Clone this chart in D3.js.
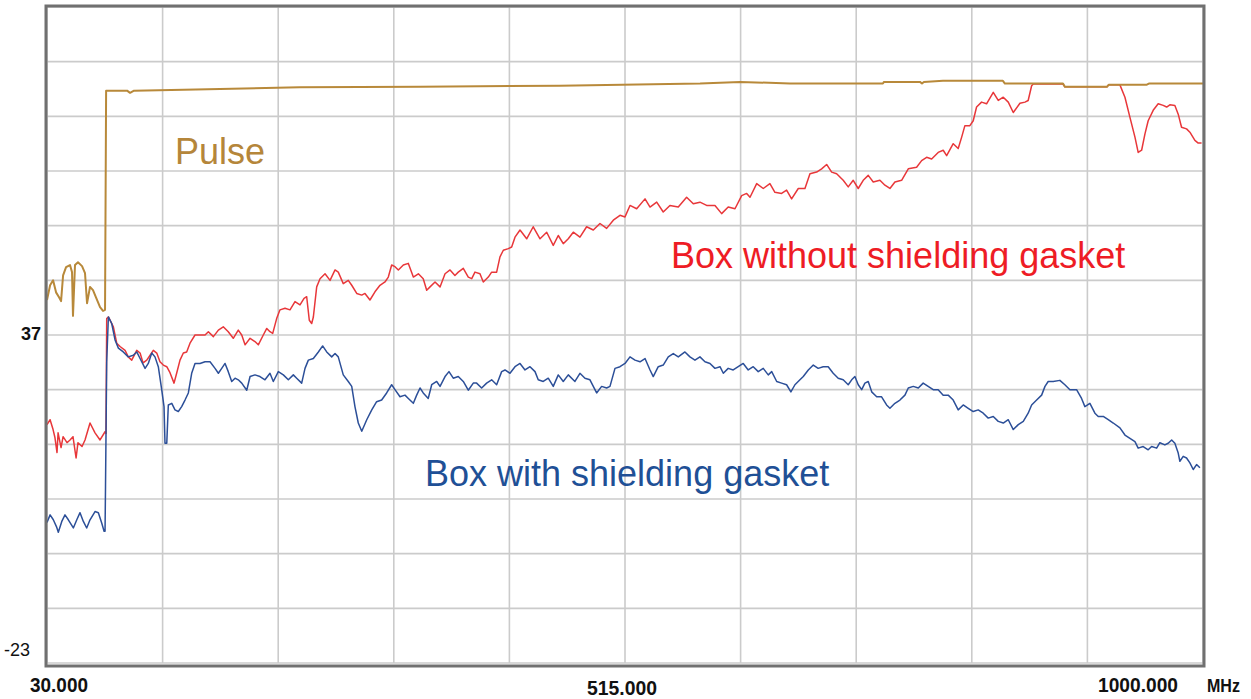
<!DOCTYPE html>
<html lang="en">
<head>
<meta charset="UTF-8">
<title>Shielding gasket emission scan</title>
<style>
body { margin: 0; background: #fff; }
svg { display: block; font-family: 'Liberation Sans', Arial, sans-serif; }
.grid line { stroke: #cbcbcb; stroke-width: 1.6; }
.trace { fill: none; stroke-linejoin: round; }
</style>
</head>
<body>
<div id="chart"></div>
<script src="https://cdnjs.cloudflare.com/ajax/libs/d3/7.8.5/d3.min.js"></script>
<script>
// frequency axis ticks (MHz) and level axis ticks (dB)
var xTicks = d3.range(30, 1001, 97);
var yTicks = d3.range(-23, 98, 10);
var xLabels = [30, 515, 1000];
var yLabels = [37, -23];

// Pulse
var pulseFreq = [30,32.6,35.1,37.6,40.1,41.8,43.5,46.0,49.3,51.0,51.8,53.5,56.0,59.4,61.9,63.6,66.1,68.6,71.1,74.5,77.0,78.7,79.6,97.2,99.7,103,155,242,343,460,578,611.5,653.4,731.4,732.3,762.5,764.2,765.8,781.8,832.1,833.8,882.5,884.1,919.4,921,952.9,954.6,1000];
var pulseLevel = [43.4,46.1,47.0,44.8,43.9,43.2,47.9,49.4,49.8,48.5,40.5,49.8,50.3,49.6,48.3,42.8,45.8,45.2,43.9,42.1,41.4,41.6,81.7,81.7,81.3,81.7,81.9,82.3,82.4,82.6,83.0,83.3,83.0,83.0,83.3,83.3,83.0,83.3,83.5,83.5,83.0,83.0,82.4,82.4,82.8,82.8,83.0,83.0];

// Box without shielding gasket
var withoutFreq = [30,32.6,35.1,36.7,38.4,39.3,41.8,43.5,46.8,49.3,51.8,54.4,56.0,59.4,61.9,66.1,70.3,74.5,78.7,79.5,80.1,81.5,85.7,88.5,91.3,95.5,98.2,101.1,105.3,108.1,110.6,113.7,116.5,119.2,122.1,124.8,127.6,130.5,133.2,136.6,138.9,141.6,144.4,147.2,150.0,154.2,158.4,162.6,165.4,169.6,173.8,177.9,182.1,186.3,190.5,193.4,196.2,200.4,204.5,207.3,211.5,214.4,217.1,219.4,222.7,225.5,229.7,233.9,238.1,242.3,245.7,247.9,250.1,252.1,253.5,256.3,259.1,263.3,267.5,271.7,274.4,278.6,282.8,285.7,289.9,294.1,296.8,301.0,305.2,309.4,313.6,316.4,319.2,322.0,324.8,329.0,333.2,337.4,341.6,345.7,348.6,351.4,355.6,359.8,364.0,368.2,372.3,375.1,379.3,383.5,386.4,389.1,393.3,396.1,400.3,403.1,407.3,410.1,412.9,417.1,419.9,422.7,426.9,432.5,438.0,443.7,449.3,454.8,459.0,463.2,467.4,471.6,477.2,482.8,488.4,494.0,499.6,505.2,510.8,515.0,519.2,524.8,531.8,536.0,541.6,547.1,552.7,559.7,566.7,572.3,577.9,583.5,590.5,596.1,601.6,607.3,612.9,617.1,619.9,625.5,631.0,636.6,640.8,646.4,650.6,654.8,660.4,666.0,670.2,675.8,680.0,684.2,688.4,692.6,698.1,702.3,706.5,710.7,714.9,719.1,723.3,728.9,733.1,737.3,741.5,747.1,752.7,759.7,763.9,768.1,772.3,777.8,782.0,784.9,790.4,794.6,797.5,800.2,804.4,807.2,810.0,814.2,818.4,824.0,828.2,832.4,836.6,840.8,846.4,850.6,853.3,856.2,857.6,882.5,884.1,919.4,921.0,930.2,934.5,938.7,942.9,945.6,948.5,951.3,954.0,958.2,962.4,966.6,969.5,972.2,976.4,979.2,982.0,986.2,989.0,993.2,996.0,998.8];
var withoutLevel = [20.6,21.5,19.7,18.2,15.5,19.1,16.4,18.4,17.3,17.8,18.4,14.5,17.3,16.6,17.8,20.9,19.1,17.8,19.3,19.0,40.0,40.3,38.5,35.5,34.9,34.2,33.0,32.4,34.2,33.7,31.9,32.4,33.3,34.2,33.7,32.1,31.5,31.2,30.1,28.2,30.1,32.4,33.7,33.9,35.5,37.0,37.0,37.0,37.6,36.7,37.9,38.5,37.6,36.4,37.9,37.0,35.2,36.4,35.8,35.2,37.0,38.2,37.6,37.3,40.0,41.6,41.9,41.6,43.1,42.5,43.7,44.0,39.7,39.1,40.3,45.8,47.3,48.2,47.0,48.9,48.5,46.4,47.0,46.1,44.6,44.3,44.6,43.4,44.9,46.1,46.7,47.6,49.8,49.5,48.9,49.8,50.1,47.6,48.2,47.3,45.2,45.8,46.7,45.8,48.2,48.9,47.9,48.5,49.2,47.6,47.3,48.5,48.2,46.7,47.6,48.5,48.5,51.3,52.5,52.8,53.1,54.9,56.2,54.6,56.8,54.6,55.8,53.4,55.2,53.7,54.6,55.8,54.9,56.8,56.2,57.4,56.5,58.0,58.9,58.6,60.7,60.1,61.9,60.4,61.3,59.5,60.7,60.4,62.2,61.0,61.3,60.7,60.7,59.2,60.4,60.1,62.5,62.9,62.2,64.7,63.8,64.7,63.1,62.9,63.5,61.9,63.8,63.8,66.5,66.8,67.4,68.2,66.8,66.5,65.3,64.1,65.3,63.8,65.3,66.2,65.0,65.3,64.4,63.8,65.0,65.3,67.4,67.7,68.9,69.5,69.2,70.4,70.8,69.8,72.0,71.1,73.2,75.3,75.3,76.2,78.7,79.6,79.3,81.4,79.9,80.5,79.6,77.7,79.4,79.6,79.9,82.6,82.9,82.9,82.4,82.4,82.8,82.8,80.5,76.8,73.2,70.4,70.8,73.8,76.2,78.1,79.3,79.0,78.7,79.1,79.0,77.4,75.0,74.7,74.1,72.6,72.1,72.1];

// Box with shielding gasket
var withFreq = [30,32.6,35.3,38.2,39.5,42.4,45.1,47.9,52.1,55.0,57.7,60.5,63.3,66.1,70.3,73.1,75.9,77.9,78.7,79.1,80.1,81.5,84.3,87.1,89.9,94.0,98.2,102.4,105.3,108.1,112.3,115.0,117.9,120.6,123.4,126.3,128.2,129.0,130.5,131.8,134.7,137.4,140.2,143.0,145.8,148.6,151.4,154.2,158.4,162.6,166.8,171.0,173.8,176.6,179.4,182.1,185.0,187.8,190.5,193.4,197.6,200.4,204.5,208.7,212.9,217.1,219.9,224.1,228.3,232.5,236.7,239.5,243.7,246.5,249.3,253.5,257.7,261.3,264.7,268.9,271.7,274.4,278.6,282.8,285.7,288.4,291.2,294.1,298.3,302.5,306.6,310.8,315.0,319.2,322.0,326.2,330.4,333.2,337.4,340.2,343.0,345.7,349.9,352.8,357.0,359.8,364.0,367.3,370.9,375.1,379.3,383.5,387.7,390.5,394.7,398.9,403.1,407.3,411.5,414.3,418.5,422.7,426.9,431.1,435.3,439.5,442.2,446.4,450.6,454.8,459.0,463.2,467.4,473.0,477.2,481.4,485.6,491.2,495.4,499.6,502.4,506.6,510.8,515.0,519.2,523.4,527.6,531.8,536.0,538.7,542.9,547.1,551.3,555.5,559.7,565.3,569.5,573.7,577.9,582.1,586.3,590.5,594.7,597.5,601.6,605.8,610.0,614.2,618.4,622.6,626.8,631.0,635.2,638.1,642.3,646.4,650.6,654.2,657.6,661.8,664.6,668.8,673.0,677.1,681.3,685.5,689.7,693.9,698.1,702.3,705.2,707.9,710.7,713.6,716.3,719.1,722.0,726.2,730.3,734.5,737.3,741.5,745.7,749.9,752.7,756.9,761.1,765.2,769.4,773.6,777.8,782.0,786.2,790.4,794.6,798.8,803.0,807.2,811.4,815.6,819.8,824.0,828.2,832.4,836.6,840.8,845.0,849.2,853.3,856.2,860.4,864.6,867.4,870.1,874.3,879.9,884.1,888.3,893.9,898.1,900.9,905.1,909.3,912.1,916.3,920.5,924.7,930.3,934.5,938.7,942.9,945.6,949.8,954.0,956.9,961.1,963.8,968.0,970.8,973.7,976.4,979.2,980.6,983.4,986.2,989.0,991.8,994.6,997.4];
var withLevel = [2.7,4.1,3.2,1.8,0.9,2.9,4.1,3.2,1.7,3.2,4.5,2.9,1.7,3.2,4.7,4.5,2.6,1.1,1.1,9.3,32.1,40.3,39.1,36.1,34.6,33.9,33.0,33.3,33.9,32.7,30.9,31.8,33.7,33.0,31.2,26.9,23.9,17.2,17.2,24.2,24.5,23.3,23.0,23.9,25.1,26.4,30.0,31.8,31.8,32.1,32.1,30.9,30.0,30.9,31.8,30.3,28.5,29.1,28.8,28.2,26.9,29.4,29.7,29.4,28.8,30.0,28.5,30.3,29.7,28.8,29.7,29.1,28.2,30.9,32.4,32.7,33.9,35.0,33.9,33.0,33.6,33.0,29.7,28.5,27.6,23.9,20.9,19.4,21.5,23.3,24.8,25.1,26.4,27.9,27.0,25.7,26.0,25.4,24.5,26.0,27.3,26.4,25.4,27.9,28.5,27.6,29.4,30.3,29.1,29.4,28.5,26.9,28.2,28.2,27.3,28.2,28.8,27.9,30.3,30.6,30.0,31.2,31.8,30.6,31.2,30.3,28.8,28.5,29.1,27.6,29.7,28.5,29.7,28.5,30.0,29.1,28.8,26.4,27.6,27.3,27.6,30.9,31.2,31.8,33.0,32.4,32.1,32.7,30.6,29.4,31.2,31.5,33.0,33.6,33.0,33.9,33.0,32.4,33.0,32.1,31.8,30.9,31.2,30.0,30.9,30.6,31.2,31.8,30.6,31.2,30.3,30.9,29.7,30.3,28.5,28.2,27.9,26.6,27.9,28.8,29.4,30.6,31.5,30.9,31.2,31.2,30.0,29.1,28.8,27.9,28.8,29.4,27.9,27.0,28.2,28.5,26.6,25.7,25.7,24.2,23.6,24.5,25.1,26.0,27.3,27.6,27.3,28.2,27.6,27.0,27.0,26.0,26.0,25.1,23.3,24.2,23.6,23.0,23.3,22.7,21.8,22.1,21.2,20.9,21.5,19.7,20.6,21.2,22.7,24.2,25.1,26.0,27.6,28.5,28.5,28.7,27.9,27.0,27.0,25.4,23.9,24.5,22.7,22.1,22.1,21.5,20.9,20.0,18.7,18.1,17.5,16.3,16.6,16.0,16.6,16.3,17.3,16.9,17.2,17.8,17.2,15.4,13.9,14.8,14.5,13.6,12.4,13.3,12.7];

var width = 1251, height = 699;
var plot = { left: 47, right: 1203, top: 7, bottom: 663 };

var x = d3.scaleLinear().domain([30, 1000]).range([plot.left, plot.right]);
var y = d3.scaleLinear().domain([-23, 97]).range([plot.bottom, plot.top]);

var svg = d3.select('#chart')
  .append('svg')
  .attr('width', width)
  .attr('height', height);

svg.append('rect').attr('width', width).attr('height', height).attr('fill', '#fff');

var grid = svg.append('g').attr('class', 'grid');
grid.selectAll('line.v')
  .data(xTicks)
  .enter().append('line')
  .attr('class', 'v')
  .attr('x1', function (d) { return x(d); })
  .attr('x2', function (d) { return x(d); })
  .attr('y1', plot.top)
  .attr('y2', plot.bottom);
grid.selectAll('line.h')
  .data(yTicks)
  .enter().append('line')
  .attr('class', 'h')
  .attr('x1', plot.left)
  .attr('x2', plot.right)
  .attr('y1', function (d) { return y(d); })
  .attr('y2', function (d) { return y(d); });

function zip(f, v) {
  return f.map(function (d, i) { return [d, v[i]]; });
}

var line = d3.line()
  .x(function (d) { return x(d[0]); })
  .y(function (d) { return y(d[1]); });

var traces = [
  { data: zip(withoutFreq, withoutLevel), color: '#e8373a', w: 1.5 },
  { data: zip(withFreq, withLevel), color: '#2c4f98', w: 1.5 },
  { data: zip(pulseFreq, pulseLevel), color: '#b8893a', w: 2 }
];

svg.selectAll('path.trace')
  .data(traces)
  .enter().append('path')
  .attr('class', 'trace')
  .attr('d', function (d) { return line(d.data); })
  .attr('stroke', function (d) { return d.color; })
  .attr('stroke-width', function (d) { return d.w; });

// frame
svg.append('rect')
  .attr('x', plot.left - 1)
  .attr('y', plot.top - 1)
  .attr('width', plot.right - plot.left + 2)
  .attr('height', plot.bottom - plot.top + 4)
  .attr('fill', 'none')
  .attr('stroke', '#707070')
  .attr('stroke-width', 3);

// y labels
svg.append('text')
  .attr('x', 41).attr('y', y(yLabels[0]) + 5)
  .attr('text-anchor', 'end')
  .attr('font-size', 18).attr('font-weight', 'bold')
  .attr('fill', '#111')
  .text(yLabels[0]);
svg.append('text')
  .attr('x', 30).attr('y', y(yLabels[1]) - 7)
  .attr('text-anchor', 'end')
  .attr('font-size', 18)
  .attr('fill', '#111')
  .text(yLabels[1]);

// x labels
var xFmt = d3.format('.3f');
var xl = svg.append('g')
  .attr('font-size', 21).attr('font-weight', 'bold').attr('fill', '#111');
xl.append('text')
  .attr('x', x(xLabels[0]) - 17).attr('y', 692)
  .attr('textLength', 58).attr('lengthAdjust', 'spacingAndGlyphs')
  .text(xFmt(xLabels[0]));
xl.append('text')
  .attr('x', x(xLabels[1]) - 38).attr('y', 695)
  .attr('textLength', 70).attr('lengthAdjust', 'spacingAndGlyphs')
  .text(xFmt(xLabels[1]));
xl.append('text')
  .attr('x', x(xLabels[2]) - 105).attr('y', 692)
  .attr('textLength', 80).attr('lengthAdjust', 'spacingAndGlyphs')
  .text(xFmt(xLabels[2]));
xl.append('text')
  .attr('x', x(xLabels[2]) + 4).attr('y', 692)
  .attr('font-size', 18)
  .attr('textLength', 33).attr('lengthAdjust', 'spacingAndGlyphs')
  .text('MHz');

// trace annotations
svg.append('text')
  .attr('x', 175).attr('y', 164)
  .attr('font-size', 36).attr('fill', '#b5863a')
  .text('Pulse');
svg.append('text')
  .attr('x', 671).attr('y', 268)
  .attr('font-size', 36).attr('fill', '#ee1c25')
  .text('Box without shielding gasket');
svg.append('text')
  .attr('x', 425).attr('y', 486)
  .attr('font-size', 36).attr('fill', '#1f5096')
  .text('Box with shielding gasket');
</script>
</body>
</html>
